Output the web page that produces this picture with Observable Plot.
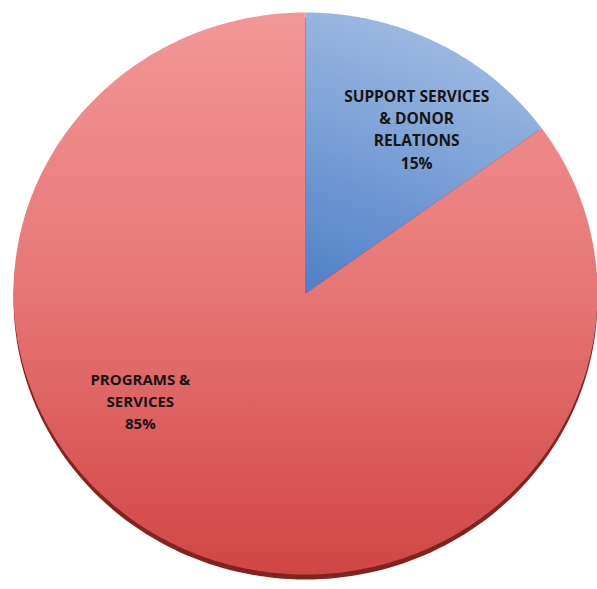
<!DOCTYPE html>
<html><head><meta charset="utf-8">
<script src="https://cdn.jsdelivr.net/npm/d3@7"></script>
<script src="https://cdn.jsdelivr.net/npm/@observablehq/plot@0.6"></script>
<style>body{margin:0;background:#fff;overflow:hidden}</style>
</head><body><div id="chart"></div>
<script>
// ---- data ----
const categories = ["SUPPORT SERVICES\n& DONOR\nRELATIONS", "PROGRAMS &\nSERVICES"];
const shares = [15, 85];
const pctLabels = ["15%", "85%"];
const fills = ["url(#blueGrad)", "url(#redGrad)"];

const pie = d3.pie().sort(null).value(d => d)(shares);

function arcPoints(a0, a1, withCenter) {
  const pts = withCenter ? [{x: 0, y: 0}] : [];
  const n = 240;
  for (let i = 0; i <= n; i++) {
    const a = a0 + (a1 - a0) * i / n;
    pts.push({x: Math.sin(a), y: Math.cos(a)});
  }
  if (withCenter) pts.push({x: 0, y: 0});
  return pts;
}
const disk = arcPoints(0, 2 * Math.PI, false);
const slices = pie.map(s => arcPoints(s.startAngle, s.endAngle, true));
const labelR = 0.68;
const labels = pie.map((s, i) => {
  const m = (s.startAngle + s.endAngle) / 2;
  return {x: labelR * Math.sin(m), y: labelR * Math.cos(m), text: categories[i] + "\n" + pctLabels[i]};
});

const W = 597, H = 589, cx = 305, cy = 293, rx = 292, ry = 281;

const defs = () => {
  const ns = "http://www.w3.org/2000/svg";
  const d = document.createElementNS(ns, "defs");
  d.innerHTML = `
    <linearGradient id="redGrad" x1="0" y1="0" x2="0" y2="1">
      <stop offset="0" stop-color="#f39797"/>
      <stop offset="0.5" stop-color="#e67674"/>
      <stop offset="1" stop-color="#d04644"/>
    </linearGradient>
    <linearGradient id="blueGrad" x1="0.3" y1="0" x2="0" y2="1">
      <stop offset="0" stop-color="#9db9e2"/>
      <stop offset="1" stop-color="#4e80c6"/>
    </linearGradient>
    <filter id="blur" x="-10%" y="-10%" width="120%" height="120%">
      <feGaussianBlur stdDeviation="4"/>
    </filter>`;
  return d;
};

const chart = Plot.plot({
  width: W, height: H,
  margin: 0,
  x: {domain: [-1, 1], range: [cx - rx, cx + rx], axis: null},
  y: {domain: [-1, 1], range: [cy + ry, cy - ry], axis: null},
  marks: [
    defs,
    Plot.line(disk, {x: "x", y: "y", fill: "#000", fillOpacity: 0.2, stroke: "none", dy: 9, dx: 1, ariaLabel: "shadow"}),
    Plot.line(disk, {x: "x", y: "y", fill: "#832320", stroke: "none", dy: 5}),
    ...slices.map((pts, i) => Plot.line(pts, {x: "x", y: "y", fill: fills[i], stroke: "none"})),
    Plot.text([labels[0]], {x: "x", y: "y", text: "text", dx: 21, dy: 5, fontSize: 15.5, fontWeight: "bold", lineHeight: 1.43, fill: "#151515", fontFamily: "Open Sans"}),
    Plot.text([labels[1]], {x: "x", y: "y", text: "text", dx: -75, dy: -64, fontSize: 15, fontWeight: "bold", lineHeight: 1.47, fill: "#151515", fontFamily: "Open Sans"})
  ]
});
d3.select(chart).select('g[aria-label="shadow"]').attr("filter", "url(#blur)");
document.getElementById("chart").appendChild(chart);
</script>
</body></html>
